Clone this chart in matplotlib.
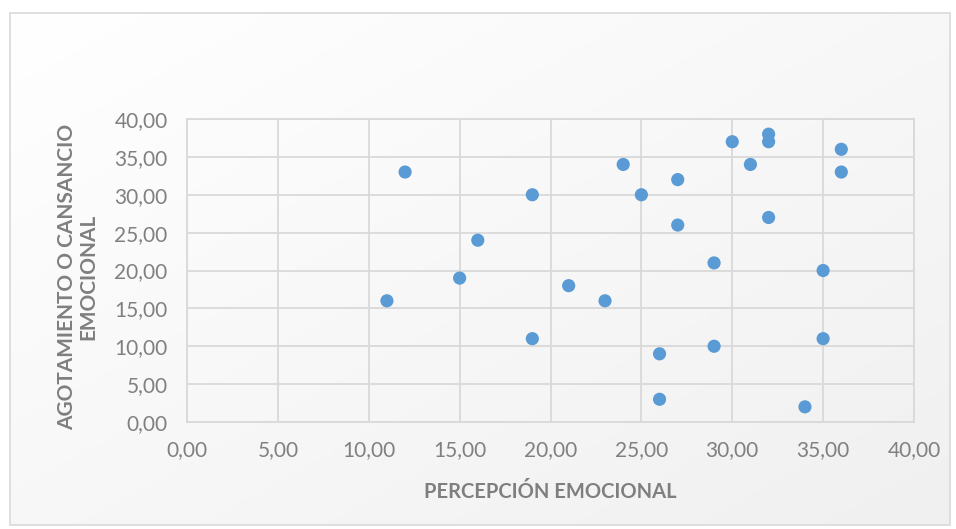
import matplotlib
matplotlib.use("Agg")
import matplotlib.pyplot as plt
import numpy as np
from matplotlib.patches import Rectangle

plt.rcParams['font.family'] = ['Lato', 'DejaVu Sans']

# Data: emotional perception vs. emotional exhaustion
percepcion = [11, 12, 15, 16, 19, 19, 21, 23, 24, 25, 26, 26, 27, 27, 29, 29,
              30, 31, 32, 32, 32, 34, 35, 35, 36, 36]
agotamiento = [16, 33, 19, 24, 30, 11, 18, 16, 34, 30, 9, 3, 32, 26, 21, 10,
               37, 34, 38, 37, 27, 2, 20, 11, 36, 33]
ticks = [0, 5, 10, 15, 20, 25, 30, 35, 40]
tick_labels = ["0,00", "5,00", "10,00", "15,00", "20,00", "25,00", "30,00", "35,00", "40,00"]

fig = plt.figure(figsize=(9.56, 5.29), dpi=100)
fig.patch.set_facecolor("white")

# Chart area with soft diagonal gradient
bg = fig.add_axes([0, 0, 1, 1], zorder=0)
bg.set_xlim(0, 956)
bg.set_ylim(529, 0)
bg.axis("off")
gx, gy = np.meshgrid(np.linspace(0, 1, 200), np.linspace(0, 1, 120))
grad = 0.5 * gx + 0.5 * gy
cmap = matplotlib.colors.LinearSegmentedColormap.from_list("g", ["#ffffff", "#f0f0f0"])
bg.imshow(grad, extent=[10, 950, 525, 13], cmap=cmap, aspect="auto", zorder=0)
bg.add_patch(Rectangle((10, 13), 940, 512, fill=False, edgecolor="#d9d9d9", linewidth=1.2, zorder=1))

L, R, T, B = 187, 914, 119, 422
ax = fig.add_axes([L / 956, 1 - B / 529, (R - L) / 956, (B - T) / 529], zorder=1)
ax.patch.set_alpha(0)
ax.scatter(percepcion, agotamiento, s=90, color="#5b9bd5", edgecolors="none", zorder=3)

ax.set_xlim(0, 40)
ax.set_ylim(0, 40)
ax.set_xticks(ticks)
ax.set_yticks(ticks)
ax.set_xticklabels(tick_labels)
ax.set_yticklabels(tick_labels)
ax.grid(True, color="#d9d9d9", linewidth=1.3, zorder=0)
for s in ax.spines.values():
    s.set_color("#d9d9d9")
    s.set_linewidth(1.3)
ax.tick_params(length=0, labelsize=15, colors="#808080")
ax.tick_params(axis="y", pad=14)
ax.tick_params(axis="x", pad=13)

ax.set_xlabel("PERCEPCIÓN EMOCIONAL", fontsize=14.5, fontweight="bold", color="#7f7f7f")
ax.set_ylabel("AGOTAMIENTO O CANSANCIO\nEMOCIONAL", fontsize=15, fontweight="bold", color="#7f7f7f",
              linespacing=1.05)
ax.xaxis.set_label_coords((550 - L) / (R - L), -(482 - B) / (B - T))
ax.yaxis.set_label_coords(-(L - 98) / (R - L), (B - 277) / (B - T))

fig.savefig("out.png", dpi=100)
